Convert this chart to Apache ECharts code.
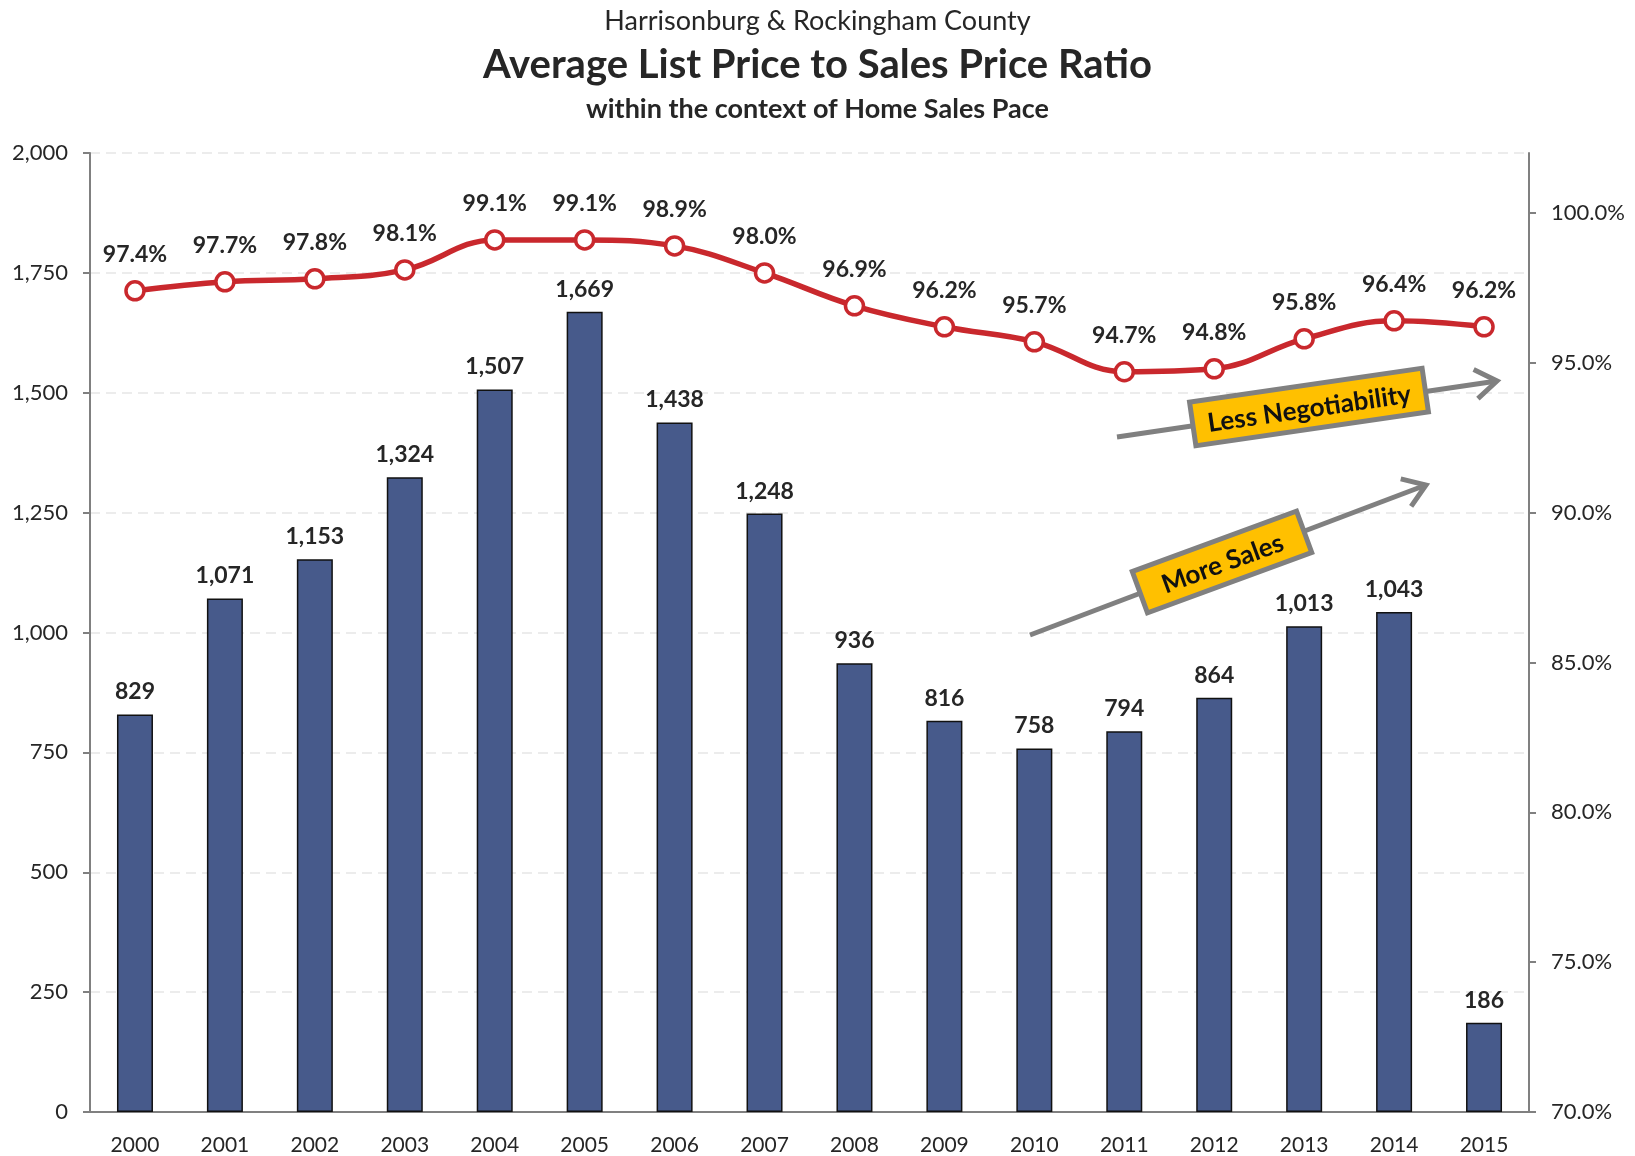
<!DOCTYPE html>
<html>
<head>
<meta charset="utf-8">
<script src="https://cdn.jsdelivr.net/npm/echarts@6/dist/echarts.min.js"></script>
<style>
  html, body { margin: 0; padding: 0; background: #fff; }
  #chart { width: 1635px; height: 1156px; }
</style>
</head>
<body>
<div id="chart"></div>
<script>
var years = ['2000', '2001', '2002', '2003', '2004', '2005', '2006', '2007',
             '2008', '2009', '2010', '2011', '2012', '2013', '2014', '2015'];
var homeSales = [829, 1071, 1153, 1324, 1507, 1669, 1438, 1248,
                 936, 816, 758, 794, 864, 1013, 1043, 186];
var priceRatio = [97.4, 97.7, 97.8, 98.1, 99.1, 99.1, 98.9, 98.0,
                  96.9, 96.2, 95.7, 94.7, 94.8, 95.8, 96.4, 96.2];
var ratioTicks = [70, 75, 80, 85, 90, 95, 100];

var font = 'Lato, "Open Sans", sans-serif';
var grey = '#808080';

// little helper for the yellow callouts with their arrows
function callout(text, cx, cy, w, h, deg, from, to) {
  var a = Math.atan2(to[1] - from[1], to[0] - from[0]);
  var head = 26, spread = 0.6;
  var p1 = [to[0] - head * Math.cos(a - spread), to[1] - head * Math.sin(a - spread)];
  var p2 = [to[0] - head * Math.cos(a + spread), to[1] - head * Math.sin(a + spread)];
  return [
    {
      type: 'polyline', z: 10,
      shape: { points: [from, to] },
      style: { stroke: grey, lineWidth: 5, fill: null }
    },
    {
      type: 'polyline', z: 10,
      shape: { points: [p1, to, p2] },
      style: { stroke: grey, lineWidth: 5, fill: null, lineJoin: 'miter' }
    },
    {
      type: 'group', x: cx, y: cy, rotation: deg * Math.PI / 180, z: 11,
      children: [
        {
          type: 'rect', z: 11,
          shape: { x: -w / 2, y: -h / 2, width: w, height: h },
          style: { fill: '#ffc000', stroke: grey, lineWidth: 5 }
        },
        {
          type: 'text', z: 12, x: 0, y: 2,
          style: {
            text: text, fill: '#111', font: 'bold 26px ' + font,
            align: 'center', verticalAlign: 'middle'
          }
        }
      ]
    }
  ];
}

var chart = echarts.init(document.getElementById('chart'));
var option = {
  animation: false,
  backgroundColor: '#fff',
  title: [
    {
      text: 'Harrisonburg & Rockingham County',
      left: 'center', top: 3,
      textStyle: { fontFamily: font, fontSize: 27, fontWeight: 'normal', color: '#262626' }
    },
    {
      text: 'Average List Price to Sales Price Ratio',
      left: 'center', top: 40,
      textStyle: { fontFamily: font, fontSize: 40, fontWeight: 'bold', color: '#262626' }
    },
    {
      text: 'within the context of Home Sales Pace',
      left: 'center', top: 91,
      textStyle: { fontFamily: font, fontSize: 27, fontWeight: 'bold', color: '#262626' }
    }
  ],
  grid: { left: 90, right: 106, top: 153, bottom: 44 },
  xAxis: {
    type: 'category',
    data: years,
    axisLine: { lineStyle: { color: grey, width: 2 } },
    axisTick: { length: 8, lineStyle: { color: grey, width: 2 } },
    axisLabel: { fontFamily: font, fontSize: 21, color: '#262626', margin: 23 }
  },
  yAxis: [
    {
      type: 'value', min: 0, max: 2000, interval: 250,
      axisLine: { show: true, lineStyle: { color: grey, width: 2 } },
      axisTick: { show: true, length: 7, lineStyle: { color: grey, width: 2 } },
      axisLabel: { fontFamily: font, fontSize: 22, color: '#262626', margin: 22 },
      splitLine: { lineStyle: { color: '#e6e6e6', type: [10, 6], width: 1.5 } }
    },
    {
      type: 'value', min: 70, max: 102, interval: 5,
      position: 'right',
      axisLine: { show: true, lineStyle: { color: grey, width: 2 } },
      axisTick: { show: true, length: 7, customValues: ratioTicks, lineStyle: { color: grey, width: 2 } },
      axisLabel: {
        fontFamily: font, fontSize: 22, color: '#262626', margin: 22,
        customValues: ratioTicks,
        formatter: function (v) { return v.toFixed(1) + '%'; }
      },
      splitLine: { show: false }
    }
  ],
  series: [
    {
      name: 'Home Sales',
      type: 'bar',
      data: homeSales,
      barWidth: 36,
      itemStyle: { color: '#475a8b', borderColor: '#111', borderWidth: 1.5 },
      label: {
        show: true, position: 'top', distance: 11,
        fontFamily: font, fontSize: 23, fontWeight: 'bold', color: '#262626',
        formatter: function (p) { return p.value.toLocaleString('en-US'); }
      }
    },
    {
      name: 'List to Sales Price Ratio',
      type: 'line',
      yAxisIndex: 1,
      data: priceRatio,
      smooth: 0.4,
      z: 5,
      symbol: 'circle',
      symbolSize: 18,
      lineStyle: { color: '#c9282d', width: 5.5 },
      itemStyle: { color: '#fff', borderColor: '#c9282d', borderWidth: 3.5 },
      label: {
        show: true, position: 'top', distance: 14,
        fontFamily: font, fontSize: 23, fontWeight: 'bold', color: '#262626',
        formatter: function (p) { return p.value.toFixed(1) + '%'; }
      }
    }
  ],
  graphic: [].concat(
    callout('Less Negotiability', 1309, 407, 235, 44, 8.3, [1117, 437], [1497, 381]),
    callout('More Sales', 1222, 562, 175, 44, 20.2, [1030, 635], [1426, 485])
  )
};
chart.setOption(option);
</script>
</body>
</html>
